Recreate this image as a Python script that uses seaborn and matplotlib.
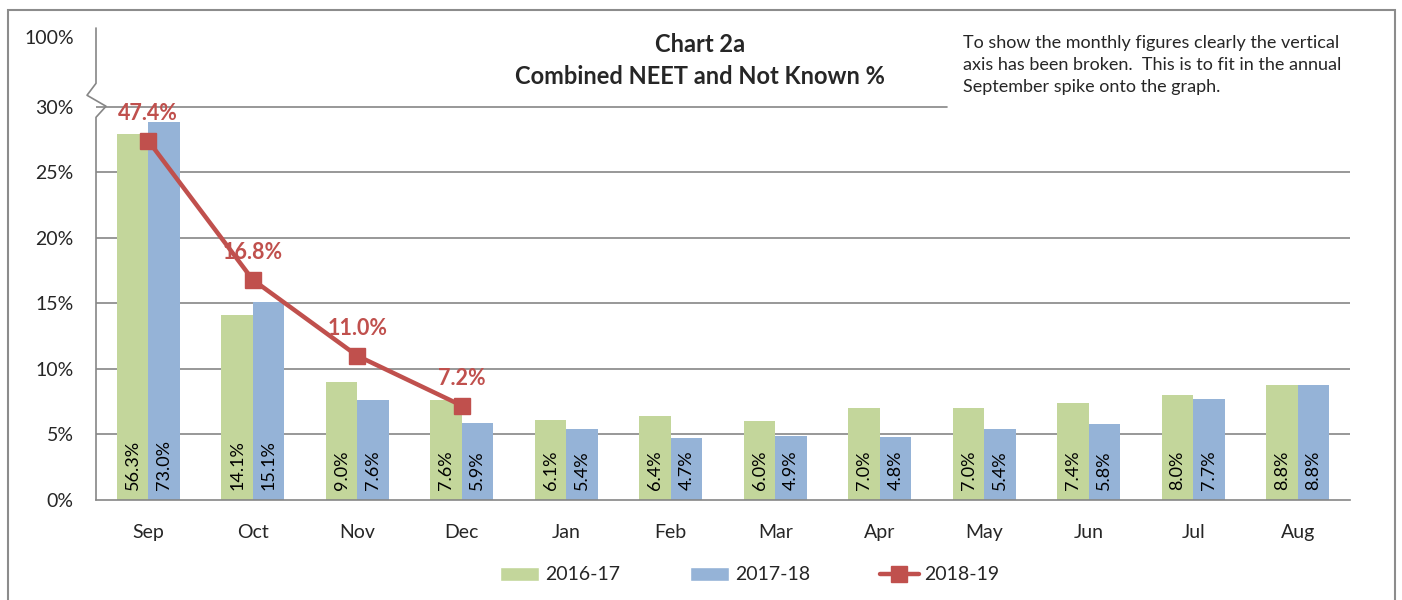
import numpy as np
import pandas as pd
import seaborn as sns
import matplotlib.pyplot as plt
from matplotlib.patches import Rectangle
from matplotlib.lines import Line2D
from matplotlib.patches import Patch

# data
months = ['Sep', 'Oct', 'Nov', 'Dec', 'Jan', 'Feb', 'Mar', 'Apr', 'May', 'Jun', 'Jul', 'Aug']
y1617 = [56.3, 14.1, 9.0, 7.6, 6.1, 6.4, 6.0, 7.0, 7.0, 7.4, 8.0, 8.8]
y1718 = [73.0, 15.1, 7.6, 5.9, 5.4, 4.7, 4.9, 4.8, 5.4, 5.8, 7.7, 8.8]
y1819 = [47.4, 16.8, 11.0, 7.2]
# broken axis: heights the Sep values are drawn at above the break
sep_drawn_1617 = 27.9
sep_drawn_1718 = 28.8
sep_drawn_1819 = 27.4

green = '#C3D69B'
blue = '#95B3D7'
red = '#C0504D'
grey = '#868686'

def drawn(vals, sep_val):
    out = list(vals)
    out[0] = sep_val
    return out

df = pd.DataFrame({
    'month': months * 2,
    'year': ['2016-17'] * 12 + ['2017-18'] * 12,
    'value': y1617 + y1718,
    'drawn': drawn(y1617, sep_drawn_1617) + drawn(y1718, sep_drawn_1718),
})
line_drawn = drawn(y1819, sep_drawn_1819)

sns.set_style('white')
plt.rcParams['font.family'] = ['Lato', 'DejaVu Sans']

fig = plt.figure(figsize=(14.02, 6), dpi=100)
ax = fig.add_axes([96 / 1402, 1 - 500 / 600, (1350 - 96) / 1402, (500 - 28) / 600])

# gridlines (30% line stops under the note box)
for g in [5, 10, 15, 20, 25]:
    ax.axhline(g, color=grey, lw=1.2, zorder=0)
ax.axhline(30, xmax=(947 - 96) / (1350 - 96), color=grey, lw=1.2, zorder=0)

sns.barplot(data=df, x='month', y='drawn', hue='year', palette=[green, blue],
            width=0.6, gap=0, saturation=1, linewidth=0, edgecolor='none',
            ax=ax, legend=False, zorder=2)

# value labels inside bars
for i in range(len(months)):
    ax.text(i - 0.15, 0.75, f'{y1617[i]:.1f}%', rotation=90, ha='center', va='bottom',
            fontsize=13, color='black', zorder=4)
    ax.text(i + 0.15, 0.75, f'{y1718[i]:.1f}%', rotation=90, ha='center', va='bottom',
            fontsize=13, color='black', zorder=4)

# 2018-19 line
xs = np.arange(len(y1819))
ax.plot(xs, line_drawn, color=red, lw=3.2, marker='s', markersize=11, zorder=5)
for x, yd, v in zip(xs, line_drawn, y1819):
    ax.annotate(f'{v:.1f}%', (x, yd), xytext=(0, 12), textcoords='offset points',
                ha='center', va='bottom', fontsize=15.5, fontweight='bold', color=red, zorder=6)

ax.set_xlim(-0.5, 11.5)
ax.set_ylim(0, 36)
ax.set_xlabel('')
ax.set_ylabel('')

# axes styling
for s in ['top', 'right', 'left']:
    ax.spines[s].set_visible(False)
ax.spines['bottom'].set_color(grey)
ax.spines['bottom'].set_linewidth(1.2)
ax.set_yticks([0, 5, 10, 15, 20, 25, 30, 35.3])
ax.set_yticklabels(['0%', '5%', '10%', '15%', '20%', '25%', '30%', '100%'], fontsize=14)
ax.tick_params(axis='y', length=0, pad=16)
ax.set_xticks(range(12))
ax.set_xticklabels(months, fontsize=14)
ax.set_xticks(np.arange(-0.5, 12, 1), minor=True)
ax.tick_params(axis='x', which='major', length=0, pad=17)
ax.tick_params(axis='x', which='minor', length=6, width=1.2, color=grey)

# broken vertical axis
yx = [-0.5, -0.5, -0.404, -0.586, -0.5, -0.5]
yy = [0, 29.19, 30.03, 30.87, 31.78, 36]
ax.plot(yx[::-1], yy[::-1], color=grey, lw=1.2, clip_on=False, zorder=3)

# titles and note
fig.text(700 / 1402, 1 - 45 / 600, 'Chart 2a', ha='center', va='center',
         fontsize=17, fontweight='bold')
fig.text(700 / 1402, 1 - 77 / 600, 'Combined NEET and Not Known %', ha='center', va='center',
         fontsize=17, fontweight='bold')
fig.text(963 / 1402, 1 - 35 / 600,
         'To show the monthly figures clearly the vertical\naxis has been broken.  This is to fit in the annual\nSeptember spike onto the graph.',
         ha='left', va='top', fontsize=13, linespacing=1.45)

# legend
handles = [Patch(facecolor=green, label='2016-17'),
           Patch(facecolor=blue, label='2017-18'),
           Line2D([0], [0], color=red, lw=3.2, marker='s', markersize=11, label='2018-19')]
fig.legend(handles=handles, loc='center', bbox_to_anchor=(750 / 1402, 1 - 575 / 600), ncol=3,
           frameon=False, fontsize=14, handlelength=2.0, columnspacing=3.6, handletextpad=0.3)

# outer chart border
fig.add_artist(Rectangle((8 / 1402, -0.01), (1395 - 8) / 1402, 1 - 10 / 600 + 0.01,
                         transform=fig.transFigure, fill=False, edgecolor='#8c8c8c', lw=1.5))

fig.savefig('out.png', dpi=100)
